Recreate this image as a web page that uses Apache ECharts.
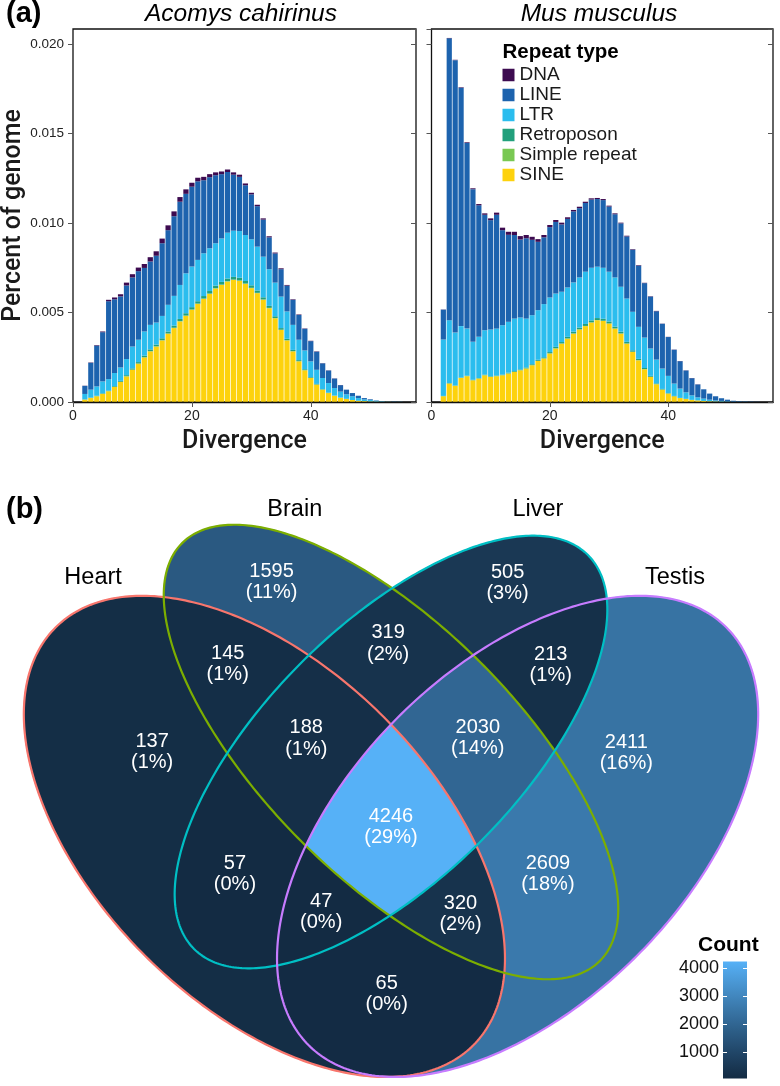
<!DOCTYPE html>
<html><head><meta charset="utf-8">
<script src="https://cdn.jsdelivr.net/npm/echarts@6/dist/echarts.min.js"></script>
<style>html,body{margin:0;padding:0;background:#fff}#c{width:780px;height:1086px}</style>
</head><body><div id="c"></div>
<script>
// ---------------- DATA: panel (a) ----------------
const divergence = [2,3,4,5,6,7,8,9,10,11,12,13,14,15,16,17,18,19,20,21,22,23,24,25,26,27,28,29,30,31,32,33,34,35,36,37,38,39,40,41,42,43,44,45,46,47,48,49,50,51,52,53,54,55];
const yTickLabels = ['0.000','0.005','0.010','0.015','0.020'];
const xTickLabels = ['0','20','40'];
const repeatTypes = ['DNA','LINE','LTR','Retroposon','Simple repeat','SINE'];

// Acomys cahirinus
const acoDNA = [.00001,.00002,.00003,.00004,.00008,.0001,.00012,.00016,.00018,.0002,.00022,.00024,.00025,.00026,.00027,.00027,.00026,.00025,.00022,.0002,.00019,.00017,.00016,.00015,.00014,.00013,.00012,.0001,.00009,.00008,.00007,.00006,.00005,.00005,.00004,.00003,.00003,.00002,.00002,.00002,.00001,.00001,.00001,.00001,0,0,0,0,0,0,0,0,0,0];
const acoLINE = [.00045,.0015,.00228,.00275,.00435,.00412,.00397,.00411,.00386,.00383,.00355,.00354,.00373,.00406,.00417,.00445,.00465,.00444,.00446,.00439,.00408,.00397,.0038,.00359,.00339,.00313,.00303,.00278,.00251,.00226,.00207,.00178,.00163,.00153,.00144,.0014,.00138,.00121,.00113,.00101,.00082,.0007,.00053,.00036,.00026,.00018,.00013,.00007,.00004,.00002,.00001,.00001,.00001,0];
const acoLTR = [.0003,.00044,.00052,.00066,.00064,.00073,.00075,.0009,.00122,.00125,.00135,.00137,.00123,.00125,.00149,.00166,.0019,.00223,.00227,.00231,.00239,.00239,.00237,.00243,.00256,.00258,.00261,.00257,.00257,.00245,.00227,.00205,.00188,.00176,.00153,.0014,.00114,.00105,.00088,.00079,.00062,.00054,.00042,.00033,.00025,.00021,.00015,.0001,.00008,.00005,.00003,.00001,.00001,.00001];
const acoRetro = [.00001,.00002,.00002,.00003,.00003,.00004,.00005,.00006,.00007,.00008,.00009,.0001,.0001,.00011,.00011,.00012,.00012,.00013,.00013,.00013,.00014,.00014,.00014,.00015,.00015,.00015,.00015,.00014,.00014,.00013,.00012,.00011,.0001,.00009,.00008,.00007,.00006,.00005,.00004,.00003,.00002,.00002,.00001,.00001,.00001,0,0,0,0,0,0,0,0,0];
const acoSimple = [.00001,.00001,.00001,.00001,.00001,.00001,.00001,.00001,.00001,.00001,.00001,.00001,.00001,.00001,.00002,.00002,.00002,.00002,.00002,.00002,.00002,.00002,.00002,.00002,.00002,.00002,.00002,.00002,.00002,.00002,.00002,.00002,.00001,.00001,.00001,.00001,.00001,.00001,.00001,.00001,.00001,0,0,0,0,0,0,0,0,0,0,0,0,0];
const acoSINE = [.00013,.00022,.00032,.00045,.0006,.00084,.00112,.00143,.0018,.00214,.00249,.00283,.0031,.00344,.00381,.00413,.0045,.00481,.00515,.00548,.00576,.00604,.00634,.00654,.00673,.00682,.00677,.0066,.00636,.00608,.00571,.00524,.00468,.00403,.00344,.00283,.00227,.00177,.00134,.00097,.00069,.0005,.00035,.00024,.00017,.00011,.00007,.00005,.00003,.00002,.00001,.00001,0,0];

// Mus musculus
const musDNA = [.00001,.00002,.00002,.00003,.00004,.00005,.00007,.00008,.0001,.00012,.00014,.00017,.00018,.00019,.00018,.00017,.00015,.00013,.00012,.00011,.0001,.00009,.00008,.00008,.00007,.00007,.00006,.00006,.00005,.00005,.00004,.00004,.00003,.00003,.00002,.00002,.00002,.00001,.00001,.00001,.00001,.00001,.00001,.00001,0,0,0,0,0,0,0,0,0,0];
const musLINE = [.00167,.01575,.01522,.01332,.01037,.00853,.00735,.00645,.00611,.00636,.00531,.00486,.00467,.00436,.00449,.00421,.00382,.00373,.00393,.004,.00376,.00383,.00397,.00387,.00384,.00381,.00378,.00378,.00364,.00353,.00354,.00347,.00347,.00342,.00304,.0029,.0027,.0025,.00217,.00189,.00153,.00122,.00096,.00072,.00052,.00034,.00023,.00015,.00009,.00005,.00003,.00002,.00002,.00001];
const musLTR = [.00315,.00351,.00295,.00287,.00263,.00212,.0023,.00248,.00261,.00262,.00276,.00284,.00293,.0029,.00273,.00274,.00277,.00297,.00305,.00298,.00281,.00276,.00275,.0028,.00292,.00294,.00287,.00285,.00278,.00275,.00251,.00242,.00215,.00179,.0017,.00153,.00133,.00114,.00096,.00069,.00052,.00036,.00025,.00017,.00013,.00009,.00006,.00004,.00003,.00002,.00001,.00001,0,0];
const musRetro = [.00001,.00002,.00002,.00002,.00002,.00002,.00002,.00003,.00003,.00003,.00003,.00004,.00004,.00004,.00005,.00005,.00006,.00006,.00007,.00008,.00008,.00009,.0001,.0001,.00011,.00011,.00011,.00011,.00011,.0001,.0001,.00009,.00008,.00007,.00006,.00005,.00004,.00003,.00002,.00002,.00001,.00001,.00001,0,0,0,0,0,0,0,0,0,0,0];
const musSimple = [.00001,.00001,.00001,.00001,.00001,.00001,.00001,.00001,.00001,.00001,.00001,.00001,.00001,.00001,.00001,.00001,.00001,.00001,.00001,.00001,.00001,.00001,.00001,.00001,.00001,.00001,.00001,.00001,.00001,.00001,.00001,.00001,.00001,.00001,.00001,.00001,.00001,.00001,.00001,0,0,0,0,0,0,0,0,0,0,0,0,0,0,0];
const musSINE = [.00032,.00103,.0009,.00134,.00144,.00121,.00131,.00149,.0014,.00144,.00149,.00159,.00168,.00177,.00187,.00205,.00229,.00243,.00271,.00299,.00326,.00354,.00382,.00405,.00424,.00444,.00457,.00453,.00438,.0041,.00382,.00326,.0028,.00233,.00183,.0014,.00099,.00069,.00047,.00032,.00022,.00017,.00011,.00009,.00006,.00004,.00003,.00002,.00001,0,0,0,0,0];

// ---------------- DATA: panel (b) ----------------
const vennSets = ['Heart','Brain','Liver','Testis'];
const vennRegions = ['Heart','Brain','Liver','Testis','Heart&Brain','Heart&Liver','Heart&Testis','Brain&Liver','Brain&Testis','Liver&Testis','Heart&Brain&Liver','Heart&Brain&Testis','Heart&Liver&Testis','Brain&Liver&Testis','Heart&Brain&Liver&Testis'];
const vennCounts = [137,1595,505,2411,145,57,65,319,2609,213,188,320,47,2030,4246];
const colorbarTicks = [1000,2000,3000,4000];

// ---------------- STYLE / LAYOUT ----------------
const FONT = '"Liberation Sans", Arial, Helvetica, sans-serif';
const TITLE_FONT = 'Roboto, "Liberation Sans", Arial, sans-serif';
const repeatColors = {'DNA':'#3d0b50','LINE':'#1d63ae','LTR':'#2bbdee','Retroposon':'#22a07c','Simple repeat':'#79c853','SINE':'#fdd20d'};
const stackOrder = ['SINE','Simple repeat','Retroposon','LTR','LINE','DNA'];
const setColors = {Heart:'#F8766D', Brain:'#7CAE00', Liver:'#00BFC4', Testis:'#C77CFF'};
// VennDiagram 4-set ellipse shapes (unit coords)
const vennShapes = {
  Heart: {x:0.35, y:0.47, a:0.35, b:0.20, rot:135},
  Brain: {x:0.50, y:0.57, a:0.35, b:0.15, rot:135},
  Liver: {x:0.50, y:0.57, a:0.33, b:0.15, rot:45},
  Testis:{x:0.65, y:0.47, a:0.35, b:0.20, rot:45}
};
const setLabelAnchor = {Heart:[0.147,0.777], Brain:[0.386,0.857], Liver:[0.674,0.857], Testis:[0.8365,0.777]};
// small pixel nudges of region labels away from the plain centroid
const labelNudgePx = {'Heart':[14,-43], 'Testis':[-20,-33], 'Brain&Liver':[-3,-10], 'Heart&Testis':[-3,-8],
  'Heart&Brain&Liver':[0,-6], 'Brain&Liver&Testis':[2,-6], 'Brain&Testis':[-4,-6], 'Liver':[4,-4]};
const vennView = {cx:391, cy:752, scale:844, top:466, height:620};
const panelA = [{left:73, width:343}, {left:431.5, width:341.5}];
const aTop = 29, aHeight = 373, xMax = 57.7, yMax = 0.02084, barGapPx = 0.35;

// ---------------- helpers ----------------
function hexToRgb(h){h=h.replace('#','');return [0,2,4].map(i=>parseInt(h.substr(i,2),16));}
function s2l(c){c/=255;return c<=0.04045?c/12.92:Math.pow((c+0.055)/1.055,2.4);}
function l2s(c){const v=c<=0.0031308?12.92*c:1.055*Math.pow(c,1/2.4)-0.055;return Math.round(Math.max(0,Math.min(1,v))*255);}
function rgbToLab(rgb){const [R,G,B]=rgb.map(s2l);
  const X=(0.4124*R+0.3576*G+0.1805*B)/0.95047,Y=(0.2126*R+0.7152*G+0.0722*B),Z=(0.0193*R+0.1192*G+0.9505*B)/1.08883;
  const f=t=>t>0.008856?Math.cbrt(t):(7.787*t+16/116);
  return [116*f(Y)-16,500*(f(X)-f(Y)),200*(f(Y)-f(Z))];}
function labToRgb(lab){const fy=(lab[0]+16)/116,fx=fy+lab[1]/500,fz=fy-lab[2]/200;
  const fi=t=>t*t*t>0.008856?t*t*t:(t-16/116)/7.787;
  const X=fi(fx)*0.95047,Y=fi(fy),Z=fi(fz)*1.08883;
  return [l2s(3.2406*X-1.5372*Y-0.4986*Z),l2s(-0.9689*X+1.8758*Y+0.0415*Z),l2s(0.0557*X-0.2040*Y+1.0570*Z)];}
const LOW = rgbToLab(hexToRgb('#132B43')), HIGH = rgbToLab(hexToRgb('#56B1F7'));
const cMin = Math.min(...vennCounts), cMax = Math.max(...vennCounts);
function countColor(v){const t=(v-cMin)/(cMax-cMin);const c=labToRgb(LOW.map((l,i)=>l+(HIGH[i]-l)*t));return 'rgb('+c.join(',')+')';}

function ellipsePoly(s, n){const th=s.rot*Math.PI/180,c=Math.cos(th),si=Math.sin(th),pts=[];
  for(let i=0;i<n;i++){const t=2*Math.PI*i/n,u=s.a*Math.cos(t),v=s.b*Math.sin(t);pts.push([s.x+u*c-v*si,s.y+u*si+v*c]);}return pts;}
function inEllipse(s,p){const th=s.rot*Math.PI/180,dx=p[0]-s.x,dy=p[1]-s.y;
  const u=dx*Math.cos(th)+dy*Math.sin(th),v=-dx*Math.sin(th)+dy*Math.cos(th);return (u/s.a)*(u/s.a)+(v/s.b)*(v/s.b)<=1;}
function clipPoly(subject, clip){let out=subject;
  for(let i=0;i<clip.length&&out.length;i++){const A=clip[i],B=clip[(i+1)%clip.length],inp=out;out=[];
    const side=p=>(B[0]-A[0])*(p[1]-A[1])-(B[1]-A[1])*(p[0]-A[0]);
    for(let j=0;j<inp.length;j++){const P=inp[j],Q=inp[(j+1)%inp.length],dp=side(P),dq=side(Q);
      if(dp>=0)out.push(P);
      if((dp>=0)!==(dq>=0)){const t=dp/(dp-dq);out.push([P[0]+t*(Q[0]-P[0]),P[1]+t*(Q[1]-P[1])]);}}}
  return out;}

const ellPolys = {}; vennSets.forEach(s=>ellPolys[s]=ellipsePoly(vennShapes[s],360));
const total = vennCounts.reduce((a,b)=>a+b,0);
const regionInfo = vennRegions.map((r,i)=>{const mem=r.split('&');let poly=ellPolys[mem[0]];
  for(let k=1;k<mem.length;k++)poly=clipPoly(poly,ellPolys[mem[k]]);
  return {name:r, mem, key:mem.slice().sort().join('|'), poly, count:vennCounts[i], color:countColor(vennCounts[i]), sx:0, sy:0, n:0};});
(function(){const keyIdx={};regionInfo.forEach((r,i)=>keyIdx[r.key]=i);
  for(let x=0.04;x<0.96;x+=0.0025)for(let y=0.17;y<0.91;y+=0.0025){
    const m=vennSets.filter(s=>inEllipse(vennShapes[s],[x,y]));if(!m.length)continue;
    const r=regionInfo[keyIdx[m.slice().sort().join('|')]];r.sx+=x;r.sy+=y;r.n++;}
  regionInfo.forEach(r=>{r.cx=r.sx/r.n;r.cy=r.sy/r.n;});})();
const fillOrder = regionInfo.slice().sort((a,b)=>a.mem.length-b.mem.length);

// ---------------- chart ----------------
const chart = echarts.init(document.getElementById('c'), null, {renderer:'canvas', width:780, height:1086});
const ux0 = 0.5 - vennView.cx/vennView.scale, ux1 = 0.5 + (780-vennView.cx)/vennView.scale;
const uy1 = 0.57 + (vennView.cy-vennView.top)/vennView.scale, uy0 = 0.57 - (vennView.top+vennView.height-vennView.cy)/vennView.scale;

const seriesList = [];
[[acoDNA,acoLINE,acoLTR,acoRetro,acoSimple,acoSINE],[musDNA,musLINE,musLTR,musRetro,musSimple,musSINE]].forEach((arrs,p)=>{
  const byName = {}; repeatTypes.forEach((n,i)=>byName[n]=arrs[i]);
  const cum = divergence.map(()=>0);
  stackOrder.forEach(n=>{
    const vals = byName[n], base = cum.slice();
    vals.forEach((v,i)=>{cum[i]+=v;});
    const color = repeatColors[n];
    seriesList.push({type:'custom', name:n, xAxisIndex:p, yAxisIndex:p*2, silent:true, clip:true,
      itemStyle:{color}, encode:{x:0, y:[1,2]},
      data: divergence.map((d,i)=>[d, base[i], base[i]+vals[i]]),
      renderItem:(params, api)=>{const d=api.value(0), lo=api.value(1), hi=api.value(2);
        if(!(hi>lo)) return null;
        const a=api.coord([d-0.5, hi]), b=api.coord([d+0.5, lo]);
        return {type:'rect', shape:{x:a[0]+barGapPx, y:a[1], width:b[0]-a[0]-2*barGapPx, height:b[1]-a[1]}, style:{fill:color}};}});
  });
});
seriesList.push({type:'custom', xAxisIndex:2, yAxisIndex:4, clip:false, silent:true, z:2,
  data: fillOrder.map(r=>[r.cx, r.cy]),
  renderItem:(params, api)=>{const r=fillOrder[params.dataIndex];
    return {type:'polygon', z2:r.mem.length, shape:{points:r.poly.map(p=>api.coord(p))}, style:{fill:r.color, stroke:r.color, lineWidth:0.6}};}});
seriesList.push({type:'custom', xAxisIndex:2, yAxisIndex:4, clip:false, silent:true, z:3,
  data: vennSets.map(s=>[vennShapes[s].x, vennShapes[s].y]),
  renderItem:(params, api)=>{const s=vennSets[params.dataIndex];
    return {type:'polygon', shape:{points:ellPolys[s].map(p=>api.coord(p))}, style:{fill:null, stroke:setColors[s], lineWidth:2.2}};}});
seriesList.push({type:'custom', xAxisIndex:2, yAxisIndex:4, clip:false, silent:true, z:4,
  data: regionInfo.map(r=>[r.cx, r.cy]),
  renderItem:(params, api)=>{const r=regionInfo[params.dataIndex];const pt=api.coord([r.cx,r.cy]);
    const nd=labelNudgePx[r.name]||[0,0];
    return {type:'text', x:pt[0]+nd[0], y:pt[1]+nd[1], style:{text:r.count+'\n('+Math.round(r.count/total*100)+'%)', fill:'#fff', fontSize:20, lineHeight:21.5, fontFamily:FONT, align:'center', verticalAlign:'middle'}};}});
seriesList.push({type:'custom', xAxisIndex:2, yAxisIndex:4, clip:false, silent:true, z:4,
  data: vennSets.map(s=>setLabelAnchor[s]),
  renderItem:(params, api)=>{const s=vennSets[params.dataIndex];const pt=api.coord(setLabelAnchor[s]);
    return {type:'text', x:pt[0], y:pt[1], style:{text:s, fill:'#000', fontSize:23.5, fontFamily:FONT, align:'center', verticalAlign:'middle'}};}});
// colorbar
const cbStops = []; for(let k=0;k<=10;k++){cbStops.push({offset:k/10, color:countColor(cMin+(cMax-cMin)*k/10)});}
seriesList.push({type:'custom', xAxisIndex:3, yAxisIndex:5, clip:false, silent:true, z:1,
  data:[[0.5, cMin]],
  renderItem:(params, api)=>{const a=api.coord([0,cMax]), b=api.coord([1,cMin]);
    return {type:'rect', shape:{x:a[0], y:a[1], width:b[0]-a[0], height:b[1]-a[1]},
      style:{fill:{type:'linear', x:0, y:1, x2:0, y2:0, colorStops:cbStops}}};}});

const axisNameStyle = {fontSize:25, color:'#1a1a1a', fontFamily:TITLE_FONT, fontWeight:500};
function xA(g){return {gridIndex:g, type:'value', min:0, max:xMax, interval:20, z:10,
  axisLine:{show:true, onZero:false, lineStyle:{color:'#111', width:1.3}},
  axisTick:{show:true, length:5, lineStyle:{color:'#555', width:1}},
  axisLabel:{fontSize:14, color:'#222', margin:7, fontFamily:FONT, showMaxLabel:false, formatter:v=>xTickLabels[Math.round(v/20)]},
  splitLine:{show:false}, name:'Divergence', nameLocation:'middle', nameGap:27, nameTextStyle:axisNameStyle};}
function yA(g, pos, labels){return {gridIndex:g, type:'value', position:pos, min:0, max:yMax, interval:0.005, z:10,
  axisLine:{show:false}, axisTick:{show:true, inside:pos==='right', length:5, lineStyle:{color:'#555', width:1}},
  axisLabel:{show:labels, fontSize:13.5, color:'#222', margin:9, fontFamily:FONT, showMaxLabel:false, formatter:v=>yTickLabels[Math.round(v/0.005)]},
  splitLine:{show:false}};}

const y0 = yA(0,'left',true); Object.assign(y0,{name:'Percent of genome', nameLocation:'middle', nameGap:43, nameRotate:90, nameTextStyle:axisNameStyle});

chart.setOption({
  animation:false,
  textStyle:{fontFamily:FONT},
  grid:[
    {left:panelA[0].left, top:aTop, width:panelA[0].width, height:aHeight, show:true, borderColor:'#111', borderWidth:1.3, backgroundColor:'transparent', outerBoundsMode:'none'},
    {left:panelA[1].left, top:aTop, width:panelA[1].width, height:aHeight, show:true, borderColor:'#111', borderWidth:1.3, backgroundColor:'transparent', outerBoundsMode:'none'},
    {left:0, top:vennView.top, width:780, height:vennView.height, outerBoundsMode:'none'},
    {left:723, top:961.5, width:24, height:117, outerBoundsMode:'none'}
  ],
  xAxis:[xA(0), xA(1),
    {gridIndex:2, type:'value', min:ux0, max:ux1, show:false},
    {gridIndex:3, type:'value', min:0, max:1, show:false}],
  yAxis:[y0, yA(0,'right',false), yA(1,'left',false), yA(1,'right',false),
    {gridIndex:2, type:'value', min:uy0, max:uy1, show:false},
    {gridIndex:3, type:'value', min:cMin, max:cMax, position:'left', z:10, axisLine:{show:false}, splitLine:{show:false},
      axisTick:{show:true, inside:true, length:4, customValues:colorbarTicks, lineStyle:{color:'#fff', width:1}},
      axisLabel:{show:true, customValues:colorbarTicks, fontSize:18, color:'#111', margin:4, fontFamily:FONT, formatter:v=>String(v)}},
    {gridIndex:3, type:'value', min:cMin, max:cMax, position:'right', z:10, axisLine:{show:false}, splitLine:{show:false},
      axisTick:{show:true, inside:true, length:4, customValues:colorbarTicks, lineStyle:{color:'#fff', width:1}},
      axisLabel:{show:false}}],
  legend:{data:repeatTypes, orient:'vertical', left:502.5, top:65.5, itemWidth:12, itemHeight:12.5, itemGap:1, icon:'rect', padding:0,
    selectedMode:false, textStyle:{fontSize:19, color:'#1a1a1a', fontFamily:FONT}},
  graphic:[
    {type:'text', x:6, y:14, style:{text:'(a)', fontSize:29, fontWeight:'bold', fontFamily:FONT, fill:'#000', align:'left', verticalAlign:'middle'}},
    {type:'text', x:6, y:510, style:{text:'(b)', fontSize:29, fontWeight:'bold', fontFamily:FONT, fill:'#000', align:'left', verticalAlign:'middle'}},
    {type:'text', x:241, y:14, style:{text:'Acomys cahirinus', fontSize:24.5, fontStyle:'italic', fontFamily:FONT, fill:'#000', align:'center', verticalAlign:'middle'}},
    {type:'text', x:599, y:14, style:{text:'Mus musculus', fontSize:24.5, fontStyle:'italic', fontFamily:FONT, fill:'#000', align:'center', verticalAlign:'middle'}},
    {type:'text', x:502.5, y:52, style:{text:'Repeat type', fontSize:20.5, fontWeight:'bold', fontFamily:FONT, fill:'#000', align:'left', verticalAlign:'middle'}},
    {type:'text', x:698, y:945, style:{text:'Count', fontSize:21, fontWeight:'bold', fontFamily:FONT, fill:'#000', align:'left', verticalAlign:'middle'}}
  ],
  series: seriesList
});
</script></body></html>
